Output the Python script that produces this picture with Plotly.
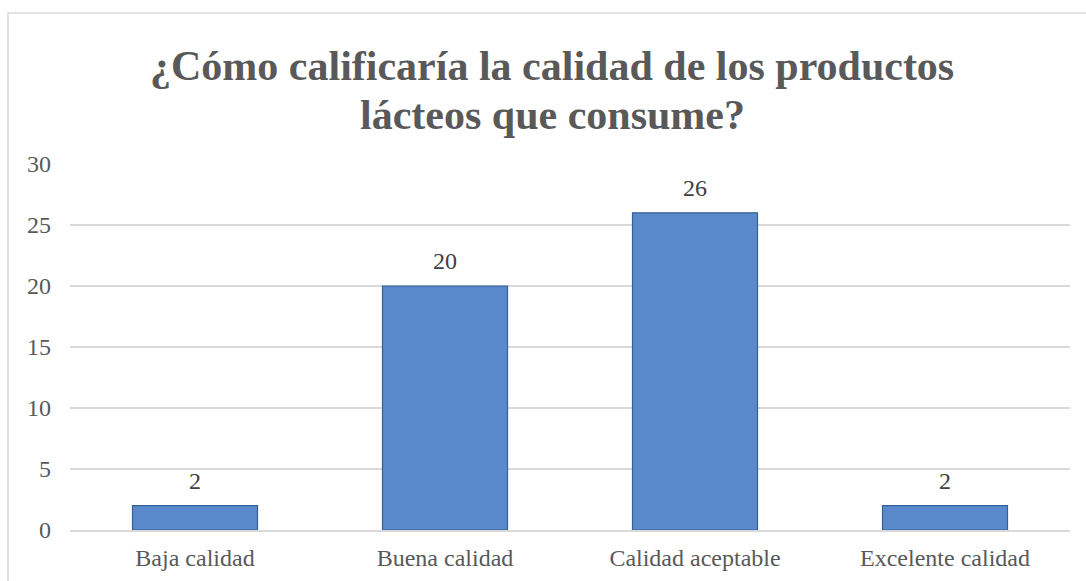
import plotly.graph_objects as go

# Survey answers and respondent counts
categorias = ["Baja calidad", "Buena calidad", "Calidad aceptable", "Excelente calidad"]
respuestas = [2, 20, 26, 2]
y_ticks = [0, 5, 10, 15, 20, 25, 30]

titulo_lineas = ["¿Cómo calificaría la calidad de los productos", "lácteos que consume?"]

W, H = 1086, 581
ML, MR, MT, MB = 70, 16, 164, 51
PW, PH = W - ML - MR, H - MT - MB
FONT = "Liberation Serif"


def px_x(x):
    return (x - ML) / PW


def px_y(y):
    return (H - MB - y) / PH


fig = go.Figure(
    go.Bar(
        x=categorias,
        y=respuestas,
        width=0.5,
        marker=dict(color="#5a8acb", line=dict(color="#34609a", width=1.2)),
        hoverinfo="skip",
    )
)

# Value labels above each bar
for cat, val in zip(categorias, respuestas):
    fig.add_annotation(
        x=cat, y=val, text=str(val), showarrow=False,
        xanchor="center", yanchor="bottom", yshift=10,
        font=dict(family=FONT, size=24, color="#404040"),
    )

# Chart-area frame
fig.add_shape(
    type="rect", xref="paper", yref="paper",
    x0=px_x(8), x1=px_x(1100), y0=px_y(620), y1=px_y(13),
    line=dict(color="#d9d9d9", width=1.5), fillcolor="rgba(0,0,0,0)", layer="below",
)

# Two-line title
for linea, yc in zip(titulo_lineas, [66, 115]):
    fig.add_annotation(
        text=linea, xref="paper", yref="paper",
        x=px_x(552), y=px_y(yc), xanchor="center", yanchor="middle", showarrow=False,
        font=dict(family=FONT, size=42, color="#595959", weight="bold"),
    )

fig.update_layout(
    width=W, height=H,
    margin=dict(l=ML, r=MR, t=MT, b=MB, autoexpand=False),
    paper_bgcolor="white", plot_bgcolor="white",
    showlegend=False,
    xaxis=dict(
        showgrid=False, showline=True, linecolor="#d9d9d9", linewidth=1.5,
        ticks="", tickfont=dict(family=FONT, size=24, color="#595959"),
        ticklabelstandoff=5, fixedrange=True, automargin=False,
    ),
    yaxis=dict(
        range=[0, 30], tickvals=y_ticks, showgrid=True, gridcolor="#d9d9d9", gridwidth=1.5,
        zeroline=False, showline=False, ticks="",
        tickfont=dict(family=FONT, size=24, color="#595959"),
        ticklabelstandoff=18, fixedrange=True, automargin=False,
    ),
)

fig.write_html("out.html")
